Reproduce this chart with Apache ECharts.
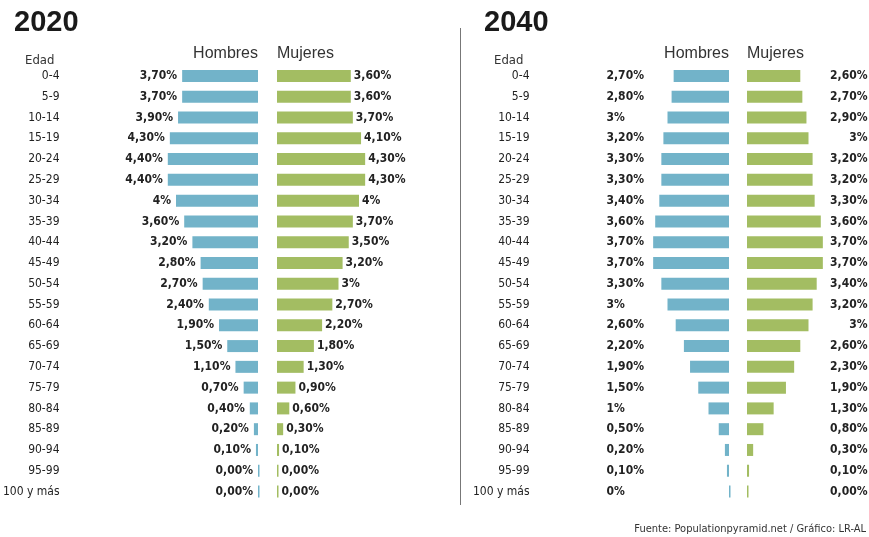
<!DOCTYPE html>
<html>
<head>
<meta charset="utf-8">
<script src="https://cdn.jsdelivr.net/npm/echarts@6/dist/echarts.min.js"></script>
<style>
html,body{margin:0;padding:0;background:#fff;}
#chart{width:869px;height:537px;}
</style>
</head>
<body>
<div id="chart"></div>
<script>
var ages = ['0-4','5-9','10-14','15-19','20-24','25-29','30-34','35-39','40-44','45-49','50-54','55-59','60-64','65-69','70-74','75-79','80-84','85-89','90-94','95-99','100 y más'];

var men2020 = [3.7,3.7,3.9,4.3,4.4,4.4,4,3.6,3.2,2.8,2.7,2.4,1.9,1.5,1.1,0.7,0.4,0.2,0.1,0,0];
var women2020 = [3.6,3.6,3.7,4.1,4.3,4.3,4,3.7,3.5,3.2,3,2.7,2.2,1.8,1.3,0.9,0.6,0.3,0.1,0,0];
var men2040 = [2.7,2.8,3,3.2,3.3,3.3,3.4,3.6,3.7,3.7,3.3,3,2.6,2.2,1.9,1.5,1,0.5,0.2,0.1,0];
var women2040 = [2.6,2.7,2.9,3,3.2,3.2,3.3,3.6,3.7,3.7,3.4,3.2,3,2.6,2.3,1.9,1.3,0.8,0.3,0.1,0];

var menLabels2020 = ['3,70%','3,70%','3,90%','4,30%','4,40%','4,40%','4%','3,60%','3,20%','2,80%','2,70%','2,40%','1,90%','1,50%','1,10%','0,70%','0,40%','0,20%','0,10%','0,00%','0,00%'];
var womenLabels2020 = ['3,60%','3,60%','3,70%','4,10%','4,30%','4,30%','4%','3,70%','3,50%','3,20%','3%','2,70%','2,20%','1,80%','1,30%','0,90%','0,60%','0,30%','0,10%','0,00%','0,00%'];
var menLabels2040 = ['2,70%','2,80%','3%','3,20%','3,30%','3,30%','3,40%','3,60%','3,70%','3,70%','3,30%','3%','2,60%','2,20%','1,90%','1,50%','1%','0,50%','0,20%','0,10%','0%'];
var womenLabels2040 = ['2,60%','2,70%','2,90%','3%','3,20%','3,20%','3,30%','3,60%','3,70%','3,70%','3,40%','3,20%','3%','2,60%','2,30%','1,90%','1,30%','0,80%','0,30%','0,10%','0,00%'];

var BLUE = '#72b3c9', GREEN = '#a3bd62';
var NARROW = "'DejaVu Sans Condensed','Liberation Sans Narrow',sans-serif";
var SANS = "'Liberation Sans',Arial,sans-serif";
var TOP = 65.6, BOTTOM = 35.1, W = 102.5, XMAX = 5;
var FS = 12;

function grid(left){
  return {left:left, width:W, top:TOP, bottom:BOTTOM, outerBoundsMode:'none', containLabel:false};
}
var grids = [grid(258 - W), grid(277), grid(729 - W), grid(747)];

function xAx(i, inv){
  return {type:'value', gridIndex:i, min:0, max:XMAX, inverse:inv, show:false};
}
function hiddenCat(i){
  return {type:'category', gridIndex:i, data:ages, inverse:true, show:false};
}
function labelCat(i, pos, formatter, align, margin, bold){
  return {type:'category', gridIndex:i, data:ages, inverse:true, position:pos,
    axisLine:{show:false}, axisTick:{show:false}, splitLine:{show:false},
    axisLabel:{show:true, interval:0, formatter:formatter, align:align, margin:margin,
      fontFamily:NARROW, fontSize:FS, fontWeight:bold?'bold':'normal', color:'#222'}};
}

var yAxes = [
  labelCat(0,'left',function(v){return v;},'right',96,false),
  hiddenCat(1),
  labelCat(2,'left',function(v){return v;},'right',97,false),
  hiddenCat(3),
  labelCat(2,'left',function(v,i){return menLabels2040[i];},'left',20,true),
  labelCat(3,'right',function(v,i){return womenLabels2040[i];},'right',18,true)
];

function barSeries(xi, yi, data, color, label){
  return {type:'bar', xAxisIndex:xi, yAxisIndex:yi, data:data, barWidth:12, barMinHeight:1.5,
    clip:false, itemStyle:{color:color}, silent:true, animation:false, label:label};
}

var option = {
  animation:false,
  title:[
    {text:'2020', left:9, top:3, textStyle:{fontFamily:SANS, fontSize:29, fontWeight:'bold', color:'#1a1a1a'}},
    {text:'2040', left:479, top:3, textStyle:{fontFamily:SANS, fontSize:29, fontWeight:'bold', color:'#1a1a1a'}}
  ],
  grid:grids,
  xAxis:[xAx(0,true), xAx(1,false), xAx(2,true), xAx(3,false)],
  yAxis:yAxes,
  series:[
    barSeries(0,0,men2020,BLUE,{show:true, position:'left', distance:5,
      formatter:function(p){return menLabels2020[p.dataIndex];},
      fontFamily:NARROW, fontSize:FS, fontWeight:'bold', color:'#222'}),
    barSeries(1,1,women2020,GREEN,{show:true, position:'right', distance:3,
      formatter:function(p){return womenLabels2020[p.dataIndex];},
      fontFamily:NARROW, fontSize:FS, fontWeight:'bold', color:'#222'}),
    barSeries(2,2,men2040,BLUE,{show:false}),
    barSeries(3,3,women2040,GREEN,{show:false})
  ],
  graphic:[
    {type:'text', right:869-258, top:46, style:{text:'Hombres', font:'16px '+SANS, fill:'#333'}},
    {type:'text', left:277, top:46, style:{text:'Mujeres', font:'16px '+SANS, fill:'#333'}},
    {type:'text', right:869-729, top:46, style:{text:'Hombres', font:'16px '+SANS, fill:'#333'}},
    {type:'text', left:747, top:46, style:{text:'Mujeres', font:'16px '+SANS, fill:'#333'}},
    {type:'text', left:25, top:54, style:{text:'Edad', font:'13px '+NARROW, fill:'#333'}},
    {type:'text', left:494, top:54, style:{text:'Edad', font:'13px '+NARROW, fill:'#333'}},
    {type:'line', shape:{x1:460.5, y1:28, x2:460.5, y2:505}, style:{stroke:'#777', lineWidth:1}},
    {type:'text', right:3, top:524, style:{text:'Fuente: Populationpyramid.net / Gráfico: LR-AL', font:'11px '+NARROW, fill:'#333'}}
  ]
};

var chart = echarts.init(document.getElementById('chart'), null, {renderer:'canvas'});
chart.setOption(option);
</script>
</body>
</html>
